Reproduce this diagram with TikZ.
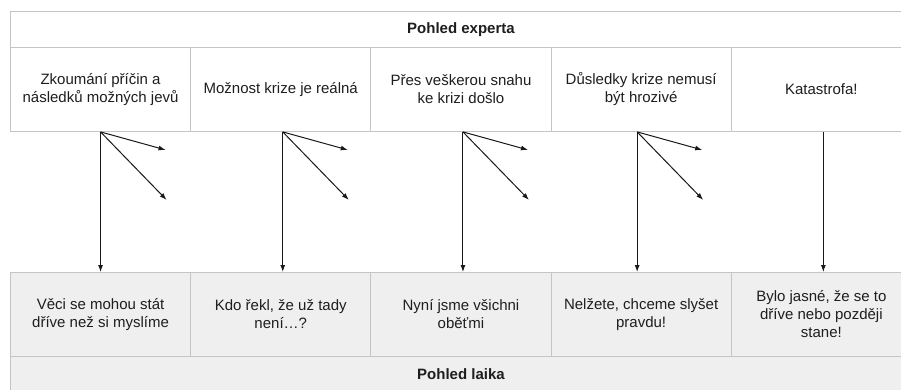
\documentclass[tikz,border=0pt]{standalone}
\usepackage{fontspec}
\setmainfont{Liberation Sans}
\usetikzlibrary{arrows.meta,calc}
\definecolor{bordergray}{HTML}{C4C4C4}
\definecolor{cellfill}{HTML}{EFEFEF}
\definecolor{textgray}{HTML}{1E1E1E}
\begin{document}
\begin{tikzpicture}[x=1pt,y=-1pt,
  base/.style={draw=bordergray, line width=0.9pt, inner sep=0pt, align=center,
    text=textgray, font=\fontsize{15}{18}\selectfont, anchor=north west},
  cell/.style={base, minimum width=180.2pt, minimum height=84pt},
  hdr/.style={base, minimum width=901pt, minimum height=36pt, font=\fontsize{15}{18}\selectfont\bfseries},
  lay/.style={fill=cellfill},
  arr/.style={-{Latex[length=7pt,width=5pt]}, line width=1pt, black!90}]
\useasboundingbox (0,0) rectangle (901,389);
\clip (0,0) rectangle (901,389);
\fill[white] (0,0) rectangle (901,389);
% top
\node[hdr] (top) at (10,11) {Pohled experta};
\node[cell] (t1) at (10,47) {Zkoumání příčin a\\následků možných jevů};
\node[cell] (t2) at (190.2,47) {Možnost krize je reálná};
\node[cell] (t3) at (370.4,47) {Přes veškerou snahu\\ke krizi došlo};
\node[cell] (t4) at (550.6,47) {Důsledky krize nemusí\\být hrozivé};
\node[cell] (t5) at (730.8,47) {Katastrofa!};
% bottom
\node[cell,lay] (b1) at (10,272) {Věci se mohou stát\\dříve než si myslíme};
\node[cell,lay] (b2) at (190.2,272) {Kdo řekl, že už tady\\není…?};
\node[cell,lay] (b3) at (370.4,272) {Nyní jsme všichni\\oběťmi};
\node[cell,lay] (b4) at (550.6,272) {Nelžete, chceme slyšet\\pravdu!};
\node[cell,lay] (b5) at (730.8,272) {Bylo jasné, že se to\\dříve nebo později\\stane!};
\node[hdr,lay] (bot) at (10,356) {Pohled laika};
% arrows
\foreach \i/\dx in {1/0,2/2,3/2,4/-4} {
  \coordinate (o\i) at ([xshift=\dx pt]t\i.south);
  \coordinate (s\i) at ($(o\i)+(65,18)$);
  \coordinate (d\i) at ($(o\i)+(66,68)$);
  \draw[arr] (o\i) -- (o\i |- b\i.north);
  \draw[arr] (o\i) -- (s\i);
  \draw[arr] (o\i) -- (d\i);
}
\coordinate (o5) at ([xshift=2pt]t5.south);
\draw[arr] (o5) -- (o5 |- b5.north);
\end{tikzpicture}
\end{document}
